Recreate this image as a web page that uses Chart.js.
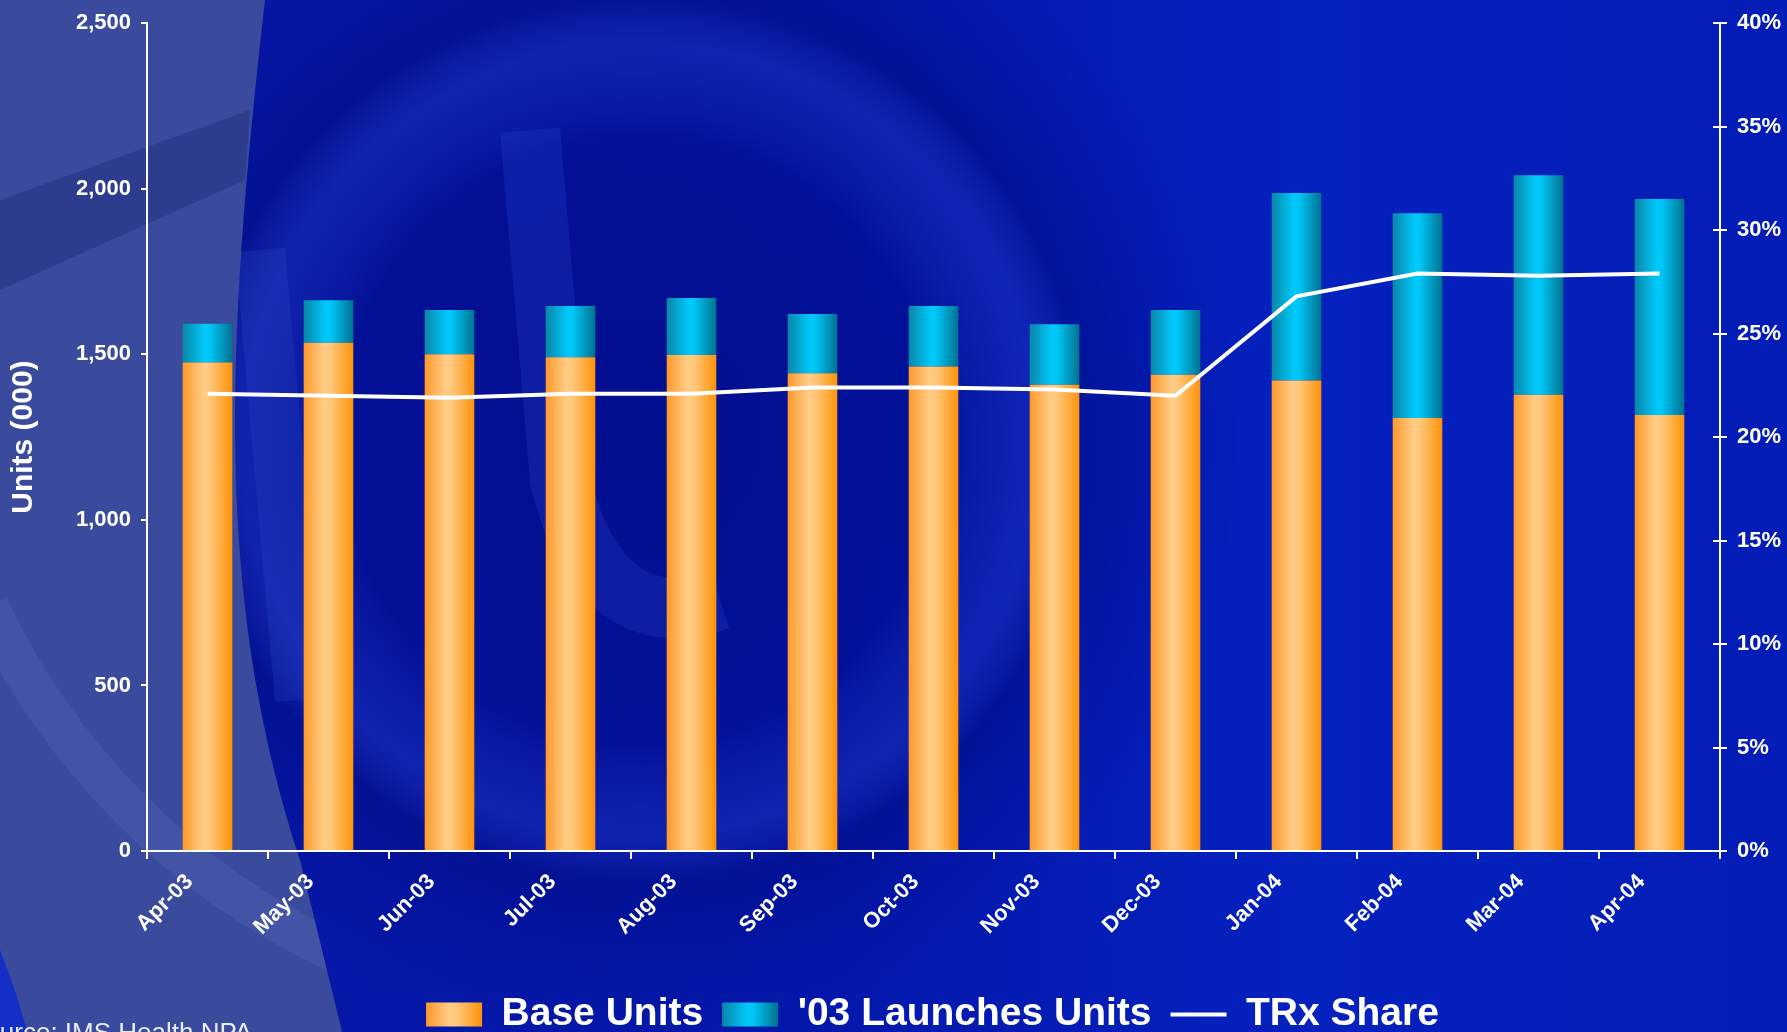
<!DOCTYPE html>
<html>
<head>
<meta charset="utf-8">
<title>Units (000) / TRx Share</title>
<script src="https://cdn.jsdelivr.net/npm/chart.js@4.4.1/dist/chart.umd.min.js"></script>
<style>
  html, body { margin: 0; padding: 0; overflow: hidden; background: #0520bc; }
  #wrap { width: 1865px; height: 1044px; position: relative; }
</style>
</head>
<body>
<div id="wrap"><canvas id="grafico"></canvas></div>
<script>
// monthly data
const meses = ['Apr-03', 'May-03', 'Jun-03', 'Jul-03', 'Aug-03', 'Sep-03', 'Oct-03',
               'Nov-03', 'Dec-03', 'Jan-04', 'Feb-04', 'Mar-04', 'Apr-04'];
const baseUnits   = [1475, 1535, 1500, 1491, 1498, 1443, 1463, 1408, 1438, 1421, 1308, 1378, 1317];
const launchUnits = [117, 128, 134, 155, 172, 179, 183, 183, 196, 566, 618, 663, 652];
const trxShare    = [22.1, 22.0, 21.9, 22.1, 22.1, 22.4, 22.4, 22.3, 22.0, 26.8, 27.9, 27.8, 27.9];
const unitTicks   = [0, 500, 1000, 1500, 2000, 2500];
const shareTicks  = [0, 5, 10, 15, 20, 25, 30, 35, 40];

const BAR_PCT = 0.41;
const orangeStops = [[0, '#ff982a'], [0.42, '#ffcd86'], [0.55, '#ffc77a'], [1, '#ff9208']];
const cyanStops   = [[0, '#0a86a8'], [0.45, '#00c9fb'], [0.55, '#00c6f6'], [1, '#00718f']];

Chart.defaults.font.family = 'Arial, "Liberation Sans", sans-serif';
Chart.defaults.color = '#ffffff';

function makeGrad(c, x0, x1, stops) {
  const g = c.createLinearGradient(x0, 0, x1, 0);
  stops.forEach(([o, col]) => g.addColorStop(o, col));
  return g;
}

// horizontal shading across each bar
function barShade(stops) {
  return function(ctx) {
    const chart = ctx.chart;
    const sx = chart.scales.x;
    if (!chart.chartArea || !sx || ctx.dataIndex === undefined) return stops[1][1];
    const cx = sx.getPixelForValue(ctx.dataIndex);
    const half = (sx.width / meses.length) * BAR_PCT / 2;
    return makeGrad(chart.ctx, cx - half, cx + half, stops);
  };
}

// left grey-blue panel outline
function panelPath(c) {
  c.beginPath();
  c.moveTo(0, 0); c.lineTo(265, 0);
  c.bezierCurveTo(225, 350, 215, 600, 300, 860);
  c.lineTo(345, 1044); c.lineTo(0, 1044); c.closePath();
}

// background swirl, source line, legend box shading
const fondo = {
  id: 'fondo',
  beforeDraw(chart) {
    const c = chart.ctx, W = chart.width, H = chart.height;
    c.save();
    let g = c.createLinearGradient(0, 0, W, 0);
    g.addColorStop(0, '#0818a4');
    g.addColorStop(0.45, '#0418ac');
    g.addColorStop(0.7, '#0521be');
    g.addColorStop(1, '#041cb4');
    c.fillStyle = g;
    c.fillRect(0, 0, W, H);

    // big round swirl
    g = c.createRadialGradient(640, 440, 0, 640, 440, 600);
    g.addColorStop(0, 'rgba(0,8,120,0.55)');
    g.addColorStop(0.5, 'rgba(0,8,130,0.45)');
    g.addColorStop(0.66, 'rgba(40,60,190,0.3)');
    g.addColorStop(0.74, 'rgba(0,10,120,0.45)');
    g.addColorStop(0.9, 'rgba(0,10,140,0.2)');
    g.addColorStop(1, 'rgba(0,10,140,0)');
    c.fillStyle = g;
    c.beginPath(); c.arc(640, 440, 600, 0, Math.PI * 2); c.fill();

    // lighter "U" shape in the middle
    c.strokeStyle = 'rgba(40,70,210,0.28)';
    c.lineWidth = 60;
    c.beginPath();
    c.moveTo(530, 130); c.lineTo(560, 480);
    c.quadraticCurveTo(600, 640, 720, 600);
    c.stroke();
    c.lineWidth = 50;
    c.strokeStyle = 'rgba(50,80,200,0.22)';
    c.beginPath(); c.moveTo(260, 250); c.lineTo(300, 700); c.stroke();

    // grey-blue panel on the left
    c.fillStyle = '#3a4a9c';
    panelPath(c);
    c.fill();
    c.save();
    panelPath(c);
    c.clip();
    c.fillStyle = 'rgba(20,30,110,0.3)';
    c.beginPath();
    c.moveTo(0, 200); c.lineTo(250, 110); c.lineTo(245, 180); c.lineTo(0, 290); c.closePath();
    c.fill();
    // soft ring across the lower left
    c.strokeStyle = 'rgba(95,115,200,0.25)';
    c.lineWidth = 40;
    c.beginPath(); c.arc(640, 300, 720, Math.PI * 0.64, Math.PI * 0.86); c.stroke();
    c.restore();
    c.fillStyle = 'rgba(10,40,210,0.8)';
    c.beginPath(); c.moveTo(0, 950); c.quadraticCurveTo(20, 1000, 30, 1044); c.lineTo(0, 1044); c.closePath(); c.fill();

    c.fillStyle = '#e8ecf8';
    c.font = '26px Arial, "Liberation Sans", sans-serif';
    c.textBaseline = 'alphabetic';
    c.fillText('Source: IMS Health NPA', -32, 1041);
    c.restore();

    // shade the legend boxes like the bars
    const lg = chart.legend;
    if (lg && lg.legendHitBoxes) {
      lg.legendItems.forEach((it, i) => {
        const hb = lg.legendHitBoxes[i];
        if (it.datasetIndex === 0) it.fillStyle = makeGrad(c, hb.left, hb.left + 56, orangeStops);
        if (it.datasetIndex === 1) it.fillStyle = makeGrad(c, hb.left, hb.left + 56, cyanStops);
      });
    }
  },
  afterDraw(chart) {
    // right axis tick marks cross the axis line
    const s = chart.scales.y1;
    const c = chart.ctx;
    c.save();
    c.strokeStyle = '#fff';
    c.lineWidth = 2;
    s.ticks.forEach(t => {
      const y = Math.round(s.getPixelForValue(t.value));
      c.beginPath(); c.moveTo(s.left - 7, y); c.lineTo(s.left, y); c.stroke();
    });
    c.restore();
  }
};

const tickFont = { size: 22, weight: 'bold' };

new Chart(document.getElementById('grafico'), {
  data: {
    labels: meses,
    datasets: [
      {
        type: 'bar',
        label: 'Base Units',
        data: baseUnits,
        backgroundColor: barShade(orangeStops),
        borderWidth: 0,
        barPercentage: BAR_PCT,
        categoryPercentage: 1,
        yAxisID: 'y',
        order: 1
      },
      {
        type: 'bar',
        label: "'03 Launches Units",
        data: launchUnits,
        backgroundColor: barShade(cyanStops),
        borderWidth: 0,
        barPercentage: BAR_PCT,
        categoryPercentage: 1,
        yAxisID: 'y',
        order: 1
      },
      {
        type: 'line',
        label: 'TRx Share',
        data: trxShare,
        borderColor: '#ffffff',
        backgroundColor: '#ffffff',
        borderWidth: 4,
        pointRadius: 0,
        tension: 0,
        yAxisID: 'y1',
        order: 0
      }
    ]
  },
  options: {
    responsive: true,
    maintainAspectRatio: false,
    animation: false,
    layout: { padding: { top: 22, left: 0, right: 0, bottom: 0 } },
    plugins: {
      tooltip: { enabled: false },
      legend: {
        position: 'bottom',
        labels: {
          color: '#ffffff',
          font: { size: 39, weight: 'bold' },
          usePointStyle: true,
          pointStyleWidth: 56,
          boxHeight: 24,
          padding: 19,
          generateLabels(chart) {
            const items = Chart.defaults.plugins.legend.labels.generateLabels(chart);
            items.sort((a, b) => a.datasetIndex - b.datasetIndex);
            items.forEach(it => {
              if (it.datasetIndex === 2) {
                it.pointStyle = 'line';
                it.strokeStyle = '#ffffff';
                it.lineWidth = 4;
              } else {
                it.pointStyle = 'rect';
                it.lineWidth = 0;
              }
            });
            return items;
          }
        }
      }
    },
    scales: {
      x: {
        stacked: true,
        offset: true,
        grid: { drawOnChartArea: false, offset: true, color: '#ffffff', lineWidth: 2, tickLength: 8 },
        border: { color: '#ffffff', width: 2 },
        ticks: { color: '#ffffff', font: tickFont, maxRotation: 45, minRotation: 45, padding: 10, labelOffset: -18 },
        afterFit(s) { s.height = 125; }
      },
      y: {
        stacked: true,
        position: 'left',
        min: unitTicks[0],
        max: unitTicks[unitTicks.length - 1],
        afterBuildTicks(s) { s.ticks = unitTicks.map(v => ({ value: v })); },
        grid: { drawOnChartArea: false, color: '#ffffff', lineWidth: 2, tickLength: 6 },
        border: { color: '#ffffff', width: 2 },
        ticks: {
          color: '#ffffff', font: tickFont, padding: 10,
          callback: v => v.toLocaleString('en-US')
        },
        title: {
          display: true, text: 'Units (000)', color: '#ffffff',
          font: { size: 30, weight: 'bold' }, padding: { top: 6, bottom: 0 }
        },
        afterFit(s) { s.width = 147; }
      },
      y1: {
        position: 'right',
        min: shareTicks[0],
        max: shareTicks[shareTicks.length - 1],
        afterBuildTicks(s) { s.ticks = shareTicks.map(v => ({ value: v })); },
        grid: { drawOnChartArea: false, color: '#ffffff', lineWidth: 2, tickLength: 7 },
        border: { color: '#ffffff', width: 2 },
        ticks: { color: '#ffffff', font: tickFont, padding: 10, callback: v => v + '%' },
        afterFit(s) { s.width = 1865 - 1720; }
      }
    }
  },
  plugins: [fondo]
});
</script>
</body>
</html>
